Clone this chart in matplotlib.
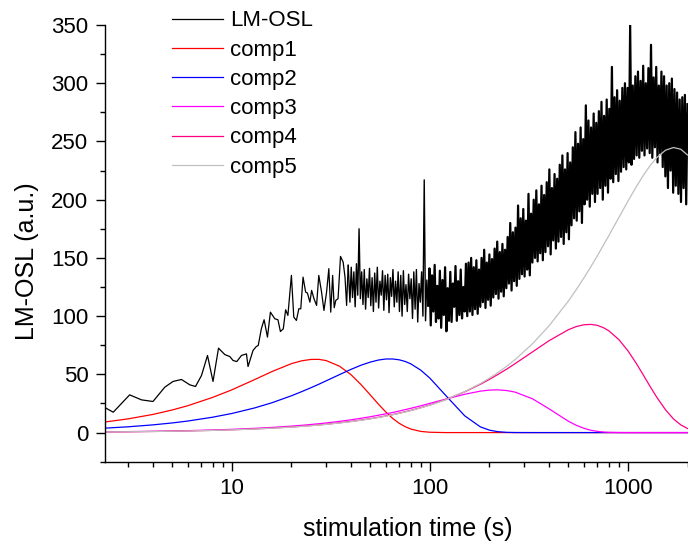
import numpy as np
import matplotlib
matplotlib.use("Agg")
from matplotlib import pyplot as plt
from matplotlib import ticker

plt.rcParams['font.family'] = ['Liberation Sans', 'DejaVu Sans']

# LM-OSL curve, sparse part (read point by point)
t_lo = [2.0, 2.52, 3.05, 3.5, 4.0, 4.59, 5.05, 5.57, 6.14, 6.56,
        7.03, 7.54, 8.04, 8.57, 9.22, 9.77, 10.15, 10.6, 11.19, 11.86,
        12.08, 12.8, 13.3, 13.6, 14.1, 14.56, 15.14, 15.67, 16.5, 17.1,
        17.6, 18.2, 18.7, 19.2, 20.0, 20.56, 21.2, 21.8, 22.3, 22.9,
        23.6, 24.1, 24.8, 25.3, 26.0, 26.8, 27.5, 28.4, 29.2, 30.1,
        30.9, 31.6, 32.3, 32.9, 33.5, 34.4, 35.4, 36.5, 37.3, 38.0, 38.7]
y_lo = [27, 17.5, 32.4, 28.1, 26.7, 39, 43.9, 45.6, 41, 39.6,
        49, 66.2, 43.9, 72.5, 67, 65.3, 61.9, 61, 66.2, 67.6,
        56.7, 70.5, 73.9, 74.8, 89.1, 96.9, 82, 103.4, 97.7, 96.9,
        86.8, 89.1, 105.5, 100.6, 135, 99.2, 96.3, 106.3, 106.3, 133.5,
        120.6, 119.8, 112, 122.1, 115, 109.2, 135, 120.6, 104.9, 120.6,
        140.8, 103.4, 135, 107.2, 113.5, 115, 151.3, 146.4, 133.5, 109.2, 143.6]

# LM-OSL curve, dense part (39.5 s .. 2000 s, read across the noisy band)
y_hi = [112, 142, 116, 138, 108, 145, 118, 175, 115, 138,
        110, 140, 106, 132, 116, 141, 109, 133, 104, 137,
        112, 142, 107, 130, 118, 139, 105, 135, 114, 136,
        103, 133, 117, 140, 108, 130, 112, 138, 104, 135,
        100, 139, 110, 127, 104, 136, 115, 132, 98, 138,
        106, 140, 95, 128, 112, 138, 100, 217, 96, 131,
        109, 141, 92, 135, 104, 144, 95, 126, 98, 139,
        90, 131, 101, 142, 87, 124, 96, 138, 95, 128,
        108, 143, 96, 130, 101, 140, 98, 125, 104, 145,
        100, 146, 104, 150, 101, 142, 106, 148, 102, 140,
        108, 150, 112, 157, 107, 146, 114, 153, 109, 149,
        116, 158, 119, 164, 115, 155, 121, 162, 117, 157,
        124, 168, 128, 180, 122, 172, 130, 176, 126, 195,
        132, 184, 136, 192, 134, 182, 140, 205, 135, 188,
        146, 200, 150, 208, 147, 196, 154, 212, 148, 204,
        155, 215, 160, 226, 153, 210, 165, 222, 158, 218,
        164, 230, 168, 238, 162, 226, 172, 240, 166, 232,
        178, 245, 184, 258, 182, 248, 190, 262, 180, 252,
        196, 281, 200, 268, 194, 262, 205, 274, 198, 266,
        205, 276, 210, 284, 200, 272, 212, 286, 206, 278,
        218, 314, 215, 288, 222, 294, 216, 285, 224, 296,
        228, 300, 226, 296, 232, 350, 230, 298, 235, 306,
        238, 310, 236, 302, 242, 315, 238, 300, 244, 313,
        240, 333, 236, 305, 245, 314, 232, 298, 240, 310,
        228, 306, 220, 298, 210, 300, 225, 304, 206, 295,
        212, 292, 205, 286, 198, 288, 210, 290, 196, 282]
t_hi = np.geomspace(39.5, 2000, len(y_hi))

# fitted components
t_comp = [2.2, 3, 4, 5, 6, 8, 10, 13, 16, 20, 22.5, 25, 27.5, 30, 35, 40, 45,
          50, 55, 60, 65, 70, 75, 80, 90, 100, 120, 150, 180, 200, 220, 245,
          270, 330, 400, 500, 550, 600, 650, 700, 750, 800, 900, 1000, 1100,
          1200, 1300, 1400, 1550, 1700, 1850, 2000]
comp1 = [8.7, 11.8, 15.6, 19.4, 23.1, 30.2, 36.7, 45.4, 52.5, 59.2, 61.6, 62.8,
         62.9, 61.8, 57.0, 49.7, 41.1, 32.4, 24.4, 17.6, 12.1, 8.0, 5.1, 3.1,
         1.0, 0.3] + [0] * 26
comp2 = [3.65, 4.98, 6.63, 8.28, 9.93, 13.2, 16.4, 21.1, 25.7, 31.6, 35.1, 38.4,
         41.5, 44.5, 49.8, 54.3, 57.9, 60.5, 62.3, 63.2, 63.2, 62.5, 61.1, 59.1,
         53.6, 46.8, 32.1, 14.4, 4.9, 2.1, 0.8, 0.2, 0.04] + [0] * 19
comp3 = [0.61, 0.84, 1.12, 1.39, 1.67, 2.23, 2.79, 3.62, 4.45, 5.55, 6.24, 6.93,
         7.61, 8.28, 9.63, 10.97, 12.3, 13.6, 14.9, 16.1, 17.3, 18.5, 19.7, 20.8,
         23.0, 25.1, 28.7, 32.9, 35.6, 36.5, 36.7, 36.1, 34.7, 29.0, 20.4, 9.8,
         6.2, 3.66, 2.0, 1.07, 0.5, 0.25, 0.05] + [0] * 9
comp4 = [0.53, 0.72, 0.96, 1.2, 1.44, 1.92, 2.4, 3.12, 3.84, 4.8, 5.4, 6.0, 6.6,
         7.19, 8.39, 9.59, 10.78, 11.97, 13.16, 14.34, 15.5, 16.7, 17.9, 19.06,
         21.4, 23.7, 28.3, 35.0, 41.5, 45.7, 49.8, 54.6, 59.3, 69.3, 78.9, 88.3,
         91.1, 92.6, 92.9, 92.1, 90.2, 87.5, 79.9, 70.3, 59.7, 49.1, 39.1, 30.3,
         19.5, 11.7, 6.6, 3.5]
comp5 = [0.52, 0.71, 0.94, 1.18, 1.41, 1.88, 2.35, 3.06, 3.77, 4.71, 5.3, 5.89,
         6.48, 7.06, 8.24, 9.42, 10.6, 11.77, 12.95, 14.12, 15.3, 16.47, 17.66,
         18.82, 21.2, 23.5, 28.2, 35.2, 42.1, 46.8, 51.4, 57.1, 62.8, 76.3, 91.7,
         112.8, 123.0, 132.9, 142.4, 151.6, 160.5, 168.9, 184.6, 198.6, 210.8,
         221.2, 229.6, 236.2, 242.5, 244.8, 243.3, 238.4]

labels = ['comp1', 'comp2', 'comp3', 'comp4', 'comp5']
colors = ['#ff0000', '#0000ff', '#ff00ff', '#ff0080', '#c0c0c0']

fig = plt.figure(figsize=(6.88, 5.43), dpi=100)
ax = fig.add_axes([105 / 688, 1 - 461.7 / 543, 582.5 / 688, 436.7 / 543])

ax.plot(t_lo, y_lo, color='black', lw=0.9, label='LM-OSL', zorder=1)
# dense part: thin up to ~100 s, thicker after so the noisy band fills in
split = 60
ax.plot([t_lo[-1]] + list(t_hi[:split + 1]), [y_lo[-1]] + y_hi[:split + 1],
        color='black', lw=1.0, zorder=1)
ax.plot(t_hi[split:], y_hi[split:], color='black', lw=1.6, zorder=1)

for comp, lab, col in zip([comp1, comp2, comp3, comp4, comp5], labels, colors):
    ax.plot(t_comp, comp, color=col, lw=0.9, label=lab, zorder=2)

ax.set_xscale('log')
ax.set_xlim(2.29, 2000)
ax.set_ylim(-25, 350)
ax.yaxis.set_major_locator(ticker.MultipleLocator(50))
ax.yaxis.set_minor_locator(ticker.MultipleLocator(25))
ax.xaxis.set_major_formatter(ticker.FuncFormatter(lambda v, p: '%g' % v))
ax.xaxis.set_minor_formatter(ticker.NullFormatter())

for s in ['top', 'right']:
    ax.spines[s].set_visible(False)
for s in ['left', 'bottom']:
    ax.spines[s].set_linewidth(1.0)
ax.tick_params(which='major', direction='out', length=6.5, width=1.0,
               labelsize=16, pad=5.5)
ax.tick_params(which='minor', direction='out', length=3.6, width=1.0)

ax.set_xlabel('stimulation time (s)', fontsize=18)
ax.set_ylabel('LM-OSL (a.u.)', fontsize=18)
ax.xaxis.set_label_coords(0.52, -0.127)
ax.yaxis.set_label_coords(-0.113, 0.46)

ax.legend(loc='upper left', bbox_to_anchor=(172 / 688, 1 - 10.5 / 543),
          bbox_transform=fig.transFigure, frameon=False, fontsize=16,
          borderpad=0, borderaxespad=0, handlelength=2.3,
          handletextpad=0.32, labelspacing=0.37)

fig.savefig('out.png', dpi=100)
